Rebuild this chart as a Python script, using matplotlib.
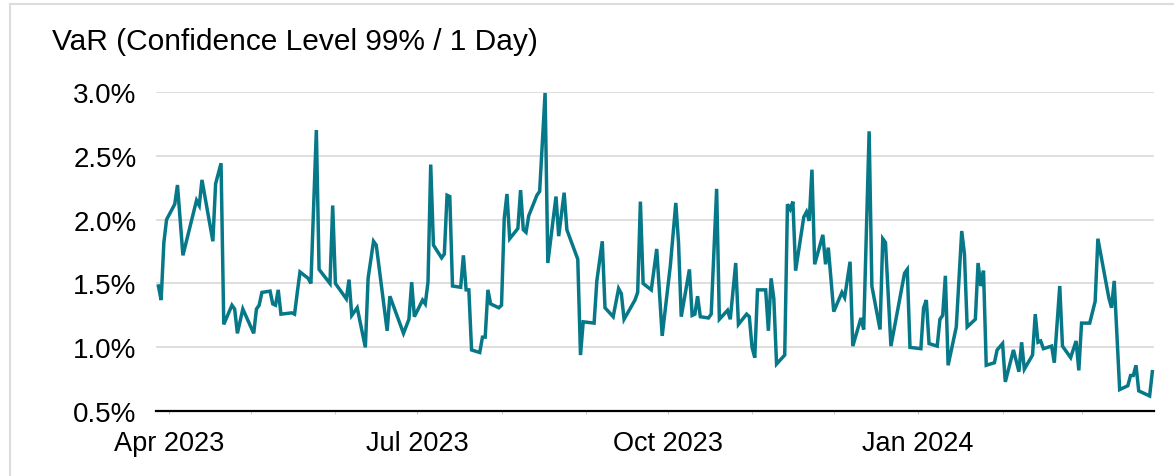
import pandas as pd
import matplotlib.pyplot as plt
import matplotlib.dates as mdates
from matplotlib.lines import Line2D
from matplotlib.ticker import FuncFormatter

dates = [
    "2023-03-28", "2023-03-29", "2023-03-30", "2023-03-31", "2023-04-03",
    "2023-04-04", "2023-04-06", "2023-04-11", "2023-04-12", "2023-04-13",
    "2023-04-17", "2023-04-18", "2023-04-20", "2023-04-21", "2023-04-24",
    "2023-04-25", "2023-04-26", "2023-04-28", "2023-05-02", "2023-05-03",
    "2023-05-04", "2023-05-05", "2023-05-08", "2023-05-09", "2023-05-10",
    "2023-05-11", "2023-05-12", "2023-05-16", "2023-05-17", "2023-05-18",
    "2023-05-19", "2023-05-22", "2023-05-23", "2023-05-25", "2023-05-26",
    "2023-05-30", "2023-05-31", "2023-06-01", "2023-06-05", "2023-06-06",
    "2023-06-07", "2023-06-09", "2023-06-12", "2023-06-13", "2023-06-15",
    "2023-06-16", "2023-06-20", "2023-06-21", "2023-06-26", "2023-06-28",
    "2023-06-29", "2023-06-30", "2023-07-03", "2023-07-04", "2023-07-05",
    "2023-07-06", "2023-07-07", "2023-07-10", "2023-07-11", "2023-07-12",
    "2023-07-13", "2023-07-14", "2023-07-17", "2023-07-18", "2023-07-19",
    "2023-07-20", "2023-07-21", "2023-07-24", "2023-07-25", "2023-07-26",
    "2023-07-27", "2023-07-28", "2023-07-31", "2023-08-01", "2023-08-02",
    "2023-08-03", "2023-08-04", "2023-08-07", "2023-08-08", "2023-08-09",
    "2023-08-10", "2023-08-11", "2023-08-14", "2023-08-15", "2023-08-17",
    "2023-08-18", "2023-08-21", "2023-08-22", "2023-08-24", "2023-08-25",
    "2023-08-29", "2023-08-30", "2023-08-31", "2023-09-04", "2023-09-05",
    "2023-09-07", "2023-09-08", "2023-09-11", "2023-09-13", "2023-09-14",
    "2023-09-15", "2023-09-19", "2023-09-20", "2023-09-21", "2023-09-22",
    "2023-09-25", "2023-09-27", "2023-09-29", "2023-10-02", "2023-10-04",
    "2023-10-05", "2023-10-06", "2023-10-09", "2023-10-10", "2023-10-11",
    "2023-10-12", "2023-10-13", "2023-10-16", "2023-10-17", "2023-10-19",
    "2023-10-20", "2023-10-23", "2023-10-24", "2023-10-26", "2023-10-27",
    "2023-10-30", "2023-10-31", "2023-11-01", "2023-11-02", "2023-11-03",
    "2023-11-06", "2023-11-07", "2023-11-08", "2023-11-09", "2023-11-10",
    "2023-11-13", "2023-11-14", "2023-11-15", "2023-11-16", "2023-11-17",
    "2023-11-20", "2023-11-21", "2023-11-22", "2023-11-23", "2023-11-24",
    "2023-11-27", "2023-11-28", "2023-11-29", "2023-12-01", "2023-12-04",
    "2023-12-05", "2023-12-07", "2023-12-08", "2023-12-11", "2023-12-12",
    "2023-12-14", "2023-12-15", "2023-12-18", "2023-12-19", "2023-12-20",
    "2023-12-22", "2023-12-27", "2023-12-28", "2023-12-29", "2024-01-02",
    "2024-01-03", "2024-01-04", "2024-01-05", "2024-01-08", "2024-01-09",
    "2024-01-10", "2024-01-11", "2024-01-12", "2024-01-15", "2024-01-17",
    "2024-01-18", "2024-01-19", "2024-01-22", "2024-01-23", "2024-01-24",
    "2024-01-25", "2024-01-26", "2024-01-29", "2024-01-30", "2024-02-01",
    "2024-02-02", "2024-02-05", "2024-02-07", "2024-02-08", "2024-02-09",
    "2024-02-12", "2024-02-13", "2024-02-14", "2024-02-15", "2024-02-16",
    "2024-02-19", "2024-02-20", "2024-02-22", "2024-02-23", "2024-02-26",
    "2024-02-28", "2024-02-29", "2024-03-01", "2024-03-04", "2024-03-06",
    "2024-03-07", "2024-03-11", "2024-03-12", "2024-03-13", "2024-03-15",
    "2024-03-18", "2024-03-19", "2024-03-20", "2024-03-21", "2024-03-22",
    "2024-03-26", "2024-03-27",
]

var_pct = [
    1.48, 1.37, 1.82, 2.00, 2.12,
    2.27, 1.72, 2.15, 2.11, 2.31,
    1.83, 2.28, 2.44, 1.18, 1.33,
    1.30, 1.11, 1.30, 1.11, 1.30,
    1.33, 1.43, 1.44, 1.34, 1.33,
    1.45, 1.26, 1.27, 1.26, 1.43,
    1.59, 1.54, 1.50, 2.70, 1.61,
    1.50, 2.11, 1.50, 1.38, 1.53,
    1.25, 1.31, 1.00, 1.54, 1.83,
    1.80, 1.13, 1.40, 1.11, 1.22,
    1.51, 1.24, 1.37, 1.34, 1.51,
    2.43, 1.80, 1.70, 1.73, 2.19,
    2.18, 1.48, 1.47, 1.72, 1.45,
    1.45, 0.98, 0.96, 1.08, 1.08,
    1.45, 1.34, 1.31, 1.33, 2.01,
    2.20, 1.85, 1.93, 2.23, 1.92,
    1.90, 2.03, 2.19, 2.22, 2.99,
    1.66, 2.18, 1.87, 2.21, 1.92,
    1.69, 0.94, 1.20, 1.19, 1.52,
    1.83, 1.31, 1.24, 1.46, 1.42,
    1.22, 1.37, 1.43, 2.14, 1.50,
    1.45, 1.77, 1.09, 1.64, 2.13,
    1.82, 1.24, 1.61, 1.25, 1.26,
    1.40, 1.24, 1.23, 1.26, 2.24,
    1.22, 1.29, 1.22, 1.66, 1.18,
    1.26, 1.24, 1.00, 0.92, 1.45,
    1.45, 1.13, 1.54, 1.38, 0.87,
    0.94, 2.12, 2.08, 2.14, 1.60,
    2.02, 2.06, 1.99, 2.39, 1.65,
    1.88, 1.65, 1.78, 1.28, 1.43,
    1.39, 1.67, 1.01, 1.23, 1.14,
    2.69, 1.48, 1.14, 1.85, 1.82,
    1.01, 1.58, 1.61, 1.00, 0.99,
    1.31, 1.37, 1.03, 1.01, 1.22,
    1.25, 1.56, 0.86, 1.16, 1.91,
    1.73, 1.16, 1.22, 1.66, 1.48,
    1.60, 0.86, 0.88, 0.98, 1.03,
    0.73, 0.98, 0.81, 1.04, 0.83,
    0.94, 1.26, 1.04, 1.05, 0.99,
    1.01, 0.88, 1.48, 1.01, 0.92,
    1.05, 0.82, 1.19, 1.19, 1.36,
    1.85, 1.39, 1.31, 1.52, 0.67,
    0.70, 0.78, 0.78, 0.86, 0.66,
    0.62, 0.81,
]

y_ticks = [0.5, 1.0, 1.5, 2.0, 2.5, 3.0]

data = pd.DataFrame({"Date": pd.to_datetime(dates), "VaR": var_pct})

plt.rcParams["font.family"] = ["Liberation Sans", "DejaVu Sans"]

fig = plt.figure(figsize=(11.74, 4.77), dpi=100)
ax = fig.add_axes([0.133, 0.1356, 0.850, 0.6701])

ax.plot(
    data["Date"],
    data["VaR"],
    color="#077888",
    linewidth=2.5,
    solid_joinstyle="miter",
    clip_on=False,
    zorder=3
)

ax.set_ylim(0.5, 3.0)
ax.set_yticks(y_ticks)
ax.yaxis.set_major_formatter(FuncFormatter(lambda v, p: f"{v:.1f}%"))
ax.grid(axis="y", color="#d9d9d9", linewidth=1.2)
ax.set_axisbelow(True)

ax.set_xlim(
    data["Date"].iloc[0] - pd.Timedelta(hours=20),
    data["Date"].iloc[-1] + pd.Timedelta(hours=15)
)
ax.xaxis.set_major_locator(mdates.MonthLocator(bymonth=[1, 4, 7, 10]))
ax.xaxis.set_minor_locator(mdates.MonthLocator())
ax.xaxis.set_major_formatter(mdates.DateFormatter("%b %Y"))

for side in ["top", "right", "left"]:
    ax.spines[side].set_visible(False)
ax.spines["bottom"].set_color("black")
ax.spines["bottom"].set_linewidth(1.6)

ax.tick_params(axis="y", length=0, pad=14, labelsize=20)
ax.tick_params(axis="x", which="both", length=2.5, color="#c8c8c8",
               pad=11, labelsize=19.5)

fig.text(52 / 1174, 1 - 50 / 477, "VaR (Confidence Level 99% / 1 Day)",
         fontsize=21.5, va="baseline", ha="left")

# light frame on the left and top edge
fig.add_artist(Line2D([10 / 1174, 10 / 1174], [0, 1 - 4.5 / 477],
                      color="#dcdcdc", linewidth=1.5))
fig.add_artist(Line2D([10 / 1174, 1], [1 - 4.5 / 477, 1 - 4.5 / 477],
                      color="#dcdcdc", linewidth=1.5))

plt.savefig("out.png", dpi=100)
